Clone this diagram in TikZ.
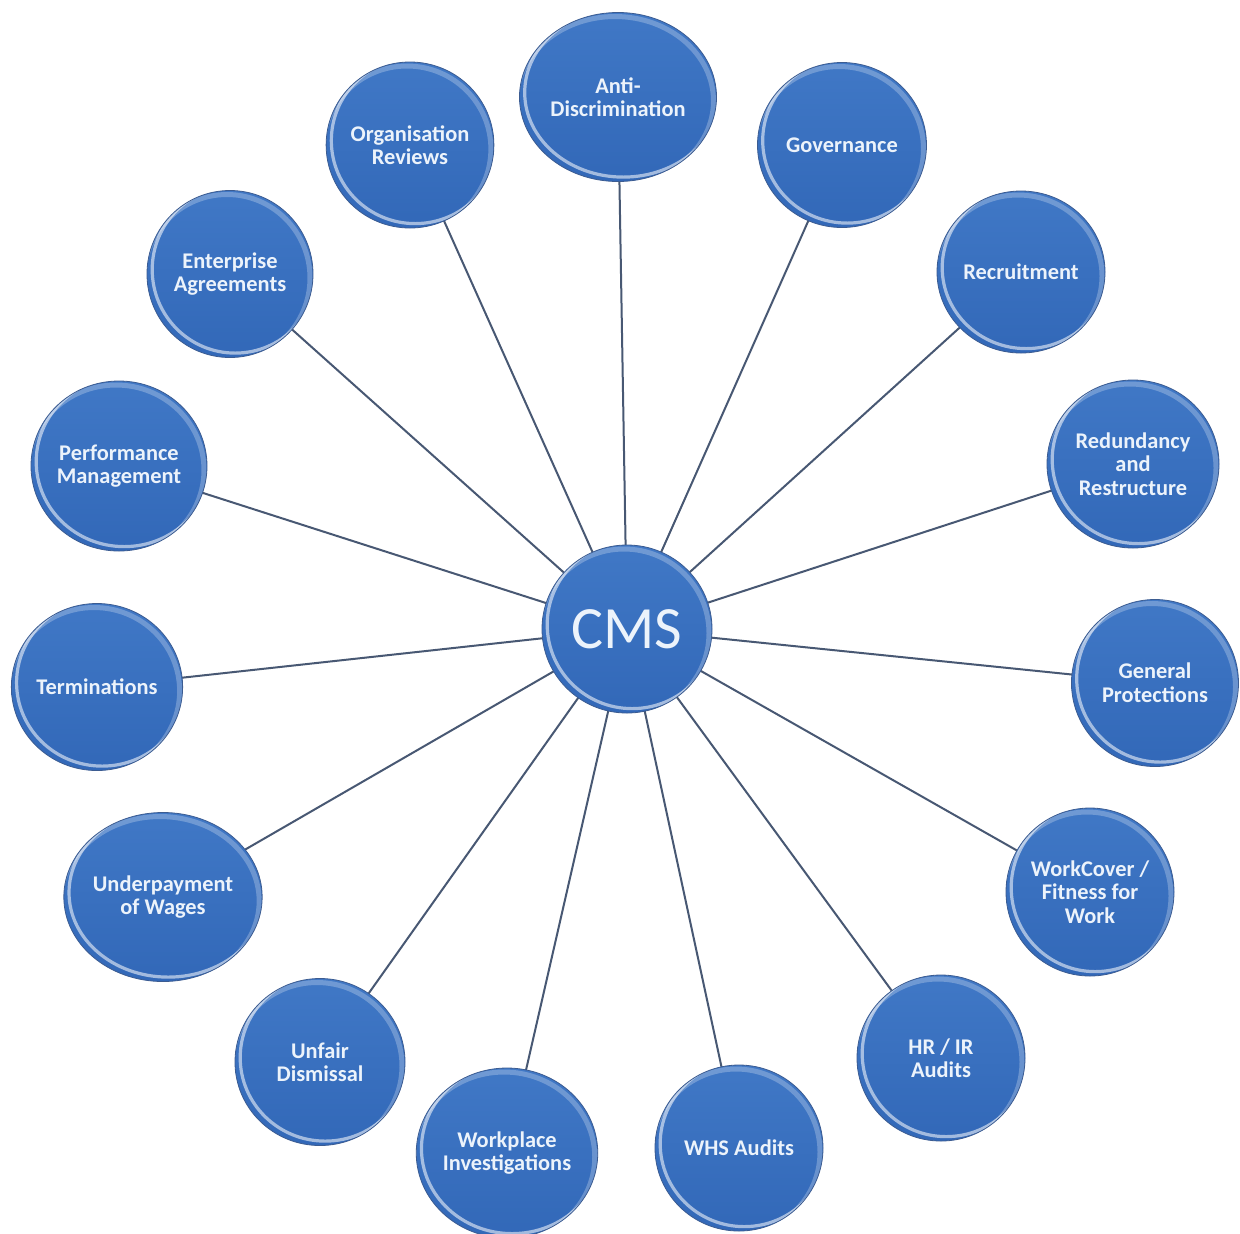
\documentclass[tikz,border=0pt]{standalone}
\usepackage{fontspec}
\setmainfont{Carlito}
\usetikzlibrary{shapes.geometric,backgrounds,calc}
\definecolor{bubTop}{RGB}{64,120,198}
\definecolor{bubBot}{RGB}{50,104,184}
\definecolor{bubEdge}{RGB}{60,92,145}
\definecolor{spokeCol}{RGB}{72,88,115}
\definecolor{txt}{RGB}{236,243,251}
\tikzset{
  bubble/.style={ellipse, top color=bubTop, bottom color=bubBot, draw=bubEdge, line width=0.4pt,
    inner sep=0pt, align=center, text=txt,
    font=\bfseries\fontsize{11.2}{11.8}\selectfont,
    path picture={
      \draw[white, opacity=0.55, line width=1.6pt]
        let \p1=($(path picture bounding box.north east)-(path picture bounding box.center)$) in
        ([xshift=2.6pt,yshift=2.2pt]path picture bounding box.center) ellipse ({\x1} and {\y1});
      \draw[white, opacity=0.25, line width=2.5pt]
        let \p1=($(path picture bounding box.north east)-(path picture bounding box.center)$) in
        ([xshift=-1.5pt,yshift=-2pt]path picture bounding box.center) ellipse ({\x1} and {\y1});
    }},
  sz/.style 2 args={minimum width=#1*0.5pt, minimum height=#2*0.5pt},
  spoke/.style={draw=spokeCol, line width=1pt}
}
\begin{document}
\begin{tikzpicture}[x=0.5pt,y=-0.5pt]
\useasboundingbox (0,0) rectangle (1240,1233);
\node[bubble, sz={170}{168}, font=\fontsize{30}{32}\selectfont] (cms) at (627,629) {CMS};
\node[bubble, sz={197}{169}] (anti) at (618,97) {Anti-\\Discrimination};
\node[bubble, sz={169}{165}] (gov) at (842,145) {Governance};
\node[bubble, sz={168}{162}] (rec) at (1021,272) {Recruitment};
\node[bubble, sz={172}{168}] (red) at (1133,464) {Redundancy\\and\\Restructure};
\node[bubble, sz={167}{167}] (gen) at (1155,683) {General\\Protections};
\node[bubble, sz={168}{168}] (wc) at (1090,892) {WorkCover /\\Fitness for\\Work};
\node[bubble, sz={168}{166}] (hr) at (941,1058) {HR / IR\\Audits};
\node[bubble, sz={168}{166}] (whs) at (739,1148) {WHS Audits};
\node[bubble, sz={180}{170}] (wpi) at (507,1153) {Workplace\\Investigations};
\node[bubble, sz={170}{167}] (ud) at (320,1062) {Unfair\\Dismissal};
\node[bubble, sz={193}{169}] (uw) at (163,897) {Underpayment\\of Wages};
\node[bubble, sz={167}{167}] (term) at (97,687) {Terminations};
\node[bubble, sz={168}{170}] (pm) at (119,466) {Performance\\Management};
\node[bubble, sz={166}{167}] (ea) at (230,274) {Enterprise\\Agreements};
\node[bubble, sz={166}{166}] (org) at (410,145) {Organisation\\Reviews};
\begin{pgfonlayer}{background}
\fill[white] (0,0) rectangle (1240,1233);
\foreach \n in {anti,gov,rec,red,gen,wc,hr,whs,wpi,ud,uw,term,pm,ea,org}
  \draw[spoke] (cms.center) -- (\n.center);
\end{pgfonlayer}
\end{tikzpicture}
\end{document}
